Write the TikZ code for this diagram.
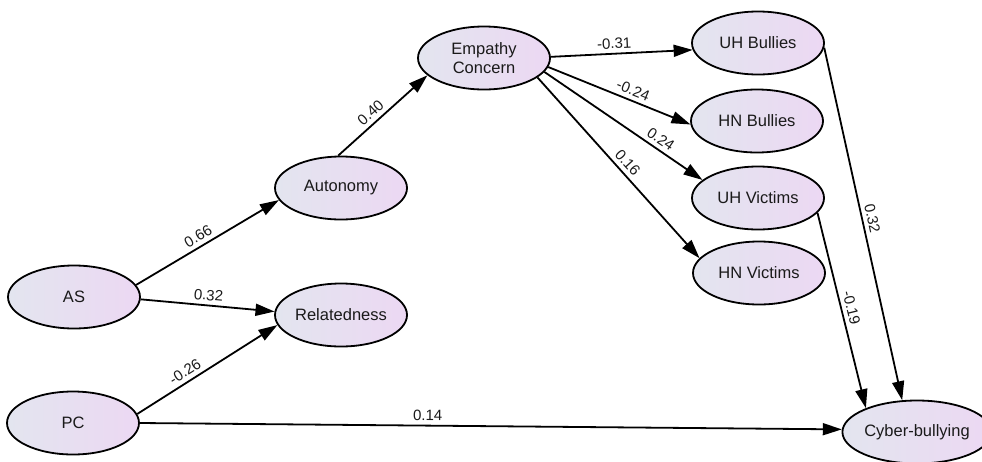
\documentclass[tikz,border=0pt]{standalone}
\usepackage{fontspec}
\setmainfont{Liberation Sans}
\usetikzlibrary{shapes.geometric,arrows.meta}
\definecolor{nodeL}{HTML}{E3E5EF}
\definecolor{nodeR}{HTML}{ECD8F3}
\definecolor{txt}{HTML}{1A1A1A}
\begin{document}
\begin{tikzpicture}[x=1pt,y=-1pt,
  lv/.style={ellipse,draw=black,line width=1.8pt,minimum width=132pt,minimum height=63pt,
    inner sep=0pt,left color=nodeL,right color=nodeR,text=txt,align=center,
    font=\fontsize{16.5}{19}\selectfont},
  conn/.style={line width=1.8pt,-{Triangle[length=19pt,width=12pt]}},
  wt/.style={font=\fontsize{15}{17}\selectfont,text=txt,sloped,above,inner sep=4pt}
]
\useasboundingbox (0,0) rectangle (982,461);
\node[lv] (as)  at (74,297)  {AS};
\node[lv] (pc)  at (73,423)  {PC};
\node[lv] (aut) at (341,188) {Autonomy};
\node[lv] (rel) at (341,315) {Relatedness};
\node[lv] (emp) at (484,58)  {Empathy\\Concern};
\node[lv] (uhb) at (758,43)  {UH Bullies};
\node[lv] (hnb) at (757,121) {HN Bullies};
\node[lv] (uhv) at (758,198) {UH Victims};
\node[lv] (hnv) at (759,273) {HN Victims};
\node[lv] (cyb) at (917,432) {Cyber-bullying};

\draw[conn] (as.11) -- node[wt,pos=0.47]{0.66} (aut.191);
\draw[conn] (as.-2) -- node[wt,pos=0.5]{0.32} (rel.177);
\draw[conn] (pc.8) -- node[wt,pos=0.38]{-0.26} (rel.189);
\draw[conn] (pc.0) -- node[wt,pos=0.41]{0.14} (cyb.178);
\draw[conn] (aut.95) -- node[wt,pos=0.44]{0.40} (emp.197);
\draw[conn] (emp.1) -- node[wt,pos=0.45]{-0.31} (uhb.186);
\draw[conn] (emp.-8) -- node[wt,pos=0.57]{-0.24} (hnb.183);
\draw[conn] (emp.-13) -- node[wt,pos=0.7]{0.24} (uhv.162);
\draw[conn] (emp.-20) -- node[wt,pos=0.51]{0.16} (hnv.166);
\draw[conn] (uhb.-4) -- node[wt,pos=0.49]{0.32} (cyb.115);
\draw[conn] (uhv.-14) -- node[wt,pos=0.5]{-0.19} (cyb.155);
\end{tikzpicture}
\end{document}
